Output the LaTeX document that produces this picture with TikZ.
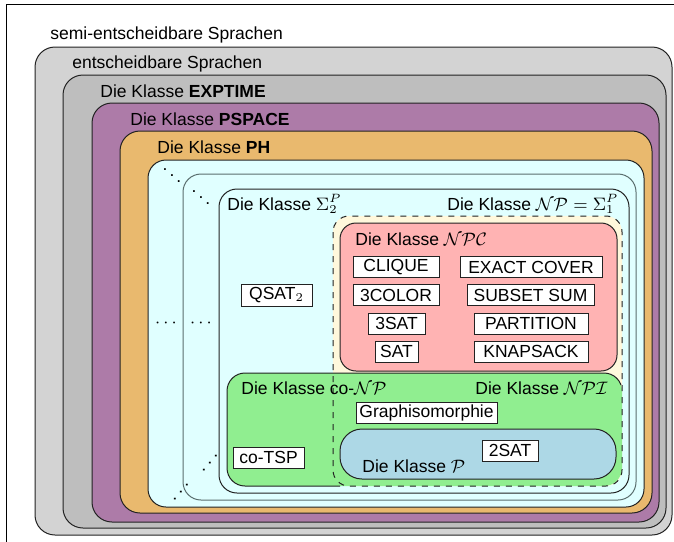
\documentclass[tikz,border=0pt]{standalone}
\usepackage[no-math]{fontspec}
\setmainfont{Liberation Sans}
\definecolor{cLightGray}{HTML}{D3D3D3}
\definecolor{cGray}{HTML}{BEBEBE}
\definecolor{cPurple}{HTML}{AD7BA8}
\definecolor{cOrange}{HTML}{E9B96E}
\definecolor{cCyan}{HTML}{E0FFFF}
\definecolor{cCream}{HTML}{FFF8DC}
\definecolor{cRed}{HTML}{FFB3B3}
\definecolor{cGreen}{HTML}{90EE90}
\definecolor{cBlue}{HTML}{ADD8E6}
\definecolor{cEdge}{HTML}{222222}
\definecolor{cEdgeGray}{HTML}{5A6E6E}
\begin{document}
\begin{tikzpicture}[x=0.5pt,y=-0.5pt,
  lbl/.style={font=\fontsize{8.75}{10}\selectfont, inner sep=0pt, anchor=base west},
  item/.style={draw=cEdge, fill=white, line width=0.5pt, font=\fontsize{8.75}{10}\selectfont, inner sep=0pt, minimum height=10.5pt},
  setbox/.style={draw=cEdge, line width=0.5pt, rounded corners=10pt},
  dotsym/.style={font=\fontsize{8.75}{10}\selectfont, inner sep=0pt}]
\useasboundingbox (0,0) rectangle (674,541);
\fill[white] (0,0) rectangle (674,541);
% outer frame
\draw[line width=0.8pt] (6.5,560) -- (6.5,4.5) -- (690,4.5);
% nested sets
\draw[setbox, fill=cLightGray] (35,47) rectangle (672,535);
\draw[setbox, fill=cGray] (63,75) rectangle (666,528);
\draw[setbox, fill=cPurple] (92,103) rectangle (659,522);
\draw[setbox, fill=cOrange] (120,131) rectangle (652,513);
\draw[setbox, fill=cCyan, rounded corners=9pt] (148,160) rectangle (644,507);
\draw[setbox, fill=cCyan, draw=cEdgeGray, rounded corners=9pt] (183,174) rectangle (636,500);
\draw[setbox, fill=cCyan, rounded corners=9pt] (219,189) rectangle (629,493);
% NP region fill
\fill[cCream, rounded corners=8pt] (333,216) rectangle (622,486);
% NPC
\draw[setbox, fill=cRed, rounded corners=8pt] (340,223) rectangle (617,371);
% co-NP
\fill[cGreen, rounded corners=9pt] (227,373) rectangle (622,486);
\begin{scope}
  \clip (0,0) rectangle (340,541) (0,0) rectangle (674,385);
  \draw[setbox, rounded corners=9pt] (227,373) rectangle (622,486);
\end{scope}
% P
\draw[setbox, fill=cBlue, rounded corners=11pt] (340,429) rectangle (616,479);
% NP dashed border
\draw[draw=cEdge, line width=0.5pt, dashed, rounded corners=8pt] (333,216) rectangle (622,486);

% labels
\node[lbl] (lsemi) at (50,39.5) {semi-entscheidbare Sprachen};
\node[lbl] (lent) at (72,68) {entscheidbare Sprachen};
\node[lbl] (lexp) at (100,97) {Die Klasse \textbf{EXPTIME}};
\node[lbl] (lpsp) at (130,125) {Die Klasse \textbf{PSPACE}};
\node[lbl] (lph) at (157,153) {Die Klasse \textbf{PH}};
\node[lbl] (lsig) at (227,210) {Die Klasse $\Sigma_2^P$};
\node[lbl] (lnp) at (447,210) {Die Klasse $\mathcal{NP}=\Sigma_1^P$};
\node[lbl] (lnpc) at (355,245.5) {Die Klasse $\mathcal{NPC}$};
\node[lbl] (lconp) at (241,394) {Die Klasse co-$\mathcal{NP}$};
\node[lbl] (lnpi) at (475,394) {Die Klasse $\mathcal{NPI}$};
\node[lbl] (lp) at (362,472) {Die Klasse $\mathcal{P}$};

% dots
\node[dotsym] (d1) at (172,170) {$\ddots$};
\node[dotsym] (d2) at (201,192) {$\ddots$};
\node[dotsym] (d3) at (166,323) {$\cdots$};
\node[dotsym] (d4) at (201,323) {$\cdots$};
\node[dotsym, rotate=90] (d5) at (175,492) {$\ddots$};
\node[dotsym, rotate=90] (d6) at (204,463) {$\ddots$};

% problems
\node[item, minimum width=43pt] (clique) at (396,267) {CLIQUE};
\node[item, minimum width=43pt] (color) at (396,295) {3COLOR};
\node[item, minimum width=28.5pt] (tsat) at (396.5,323.5) {3SAT};
\node[item, minimum width=21.5pt] (sat) at (396.5,351.5) {SAT};
\node[item, minimum width=71pt] (exact) at (531,267) {EXACT COVER};
\node[item, minimum width=63.5pt] (subset) at (530.5,295) {SUBSET SUM};
\node[item, minimum width=57pt] (part) at (531,323.5) {PARTITION};
\node[item, minimum width=57pt] (knap) at (531,351.5) {KNAPSACK};
\node[item, minimum width=35.5pt, minimum height=11pt] (qsat) at (276.5,295) {QSAT$_2$};
\node[item, minimum width=35.5pt] (cotsp) at (268.5,457.5) {co-TSP};
\node[item, minimum width=70.5pt] (graph) at (426.5,412.5) {Graphisomorphie};
\node[item, minimum width=28pt] (twosat) at (510,450.5) {2SAT};
\end{tikzpicture}
\end{document}
